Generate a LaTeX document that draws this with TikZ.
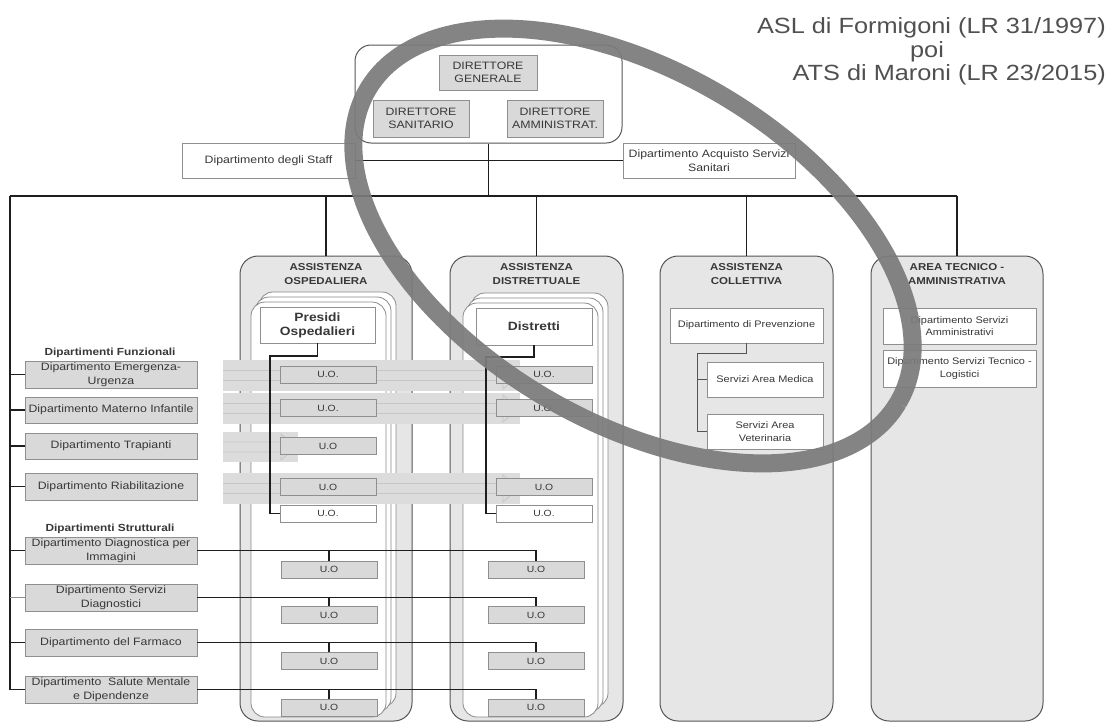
\documentclass[tikz,border=0pt]{standalone}
\usepackage{fontspec}
\setmainfont{Liberation Sans}[FakeStretch=1.15]
\definecolor{boxfill}{HTML}{D9D9D9}
\definecolor{boxline}{HTML}{8F8F8F}
\definecolor{colfill}{HTML}{E6E6E6}
\definecolor{colline}{HTML}{555555}
\definecolor{frameC}{HTML}{8A8A8A}
\definecolor{txt}{HTML}{383838}
\definecolor{lineC}{HTML}{1E1E1E}
\definecolor{ringC}{HTML}{7B7B7B}
\definecolor{bandC}{HTML}{DCDCDC}
\definecolor{bandL}{HTML}{C6C6C6}
\definecolor{titleC}{HTML}{505050}
\tikzset{
 conn/.style={draw=lineC, line width=1.1pt},
 lightconn/.style={draw=boxline, line width=1pt},
 gbox/.style={draw=boxline, fill=boxfill, line width=0.8pt, inner sep=0pt, text=txt, align=center, font=\fontsize{10.7}{13.5}\selectfont},
 wbox/.style={gbox, fill=white},
 sbox/.style={wbox, font=\fontsize{9.5}{12.5}\selectfont},
 uo/.style={gbox, minimum width=96pt, minimum height=17pt, font=\fontsize{9}{10}\selectfont},
 wuo/.style={uo, fill=white},
 dept/.style={gbox, minimum width=172pt, minimum height=27pt},
 colbox/.style={draw=colline, fill=colfill, line width=1pt, rounded corners=18pt, minimum width=172pt, minimum height=465pt, inner sep=0pt},
 coltitle/.style={font=\bfseries\fontsize{10}{14}\selectfont, align=center, text=txt},
 frame/.style={draw=frameC, fill=white, line width=0.8pt, rounded corners=14pt},
 band/.style={fill=bandC},
 bandarrow/.style={draw=bandL, line width=0.8pt},
 ring/.style={draw=ringC, line width=18pt, opacity=0.93},
 sectitle/.style={font=\bfseries\fontsize{10.3}{13}\selectfont, text=txt},
 titletext/.style={font=\fontsize{22}{26}\selectfont, text=titleC, inner sep=0pt},
}
\begin{document}
\begin{tikzpicture}[x=1pt,y=-1pt]
\useasboundingbox (0,0) rectangle (1113,726);

% --- top management ---
\node[draw=colline, line width=1pt, rounded corners=16pt, minimum width=267pt, minimum height=98pt, inner sep=0pt] (top) at (488.5,94) {};
\node[gbox, minimum width=98pt, minimum height=35pt] (dg) at (488,72.5) {DIRETTORE\\GENERALE};
\node[gbox, minimum width=96pt, minimum height=37pt] (ds) at (421,118.5) {DIRETTORE\\SANITARIO};
\node[gbox, minimum width=96pt, minimum height=37pt] (da) at (555,118.5) {DIRETTORE\\AMMINISTRAT.};

\node[wbox, minimum width=173pt, minimum height=35pt] (staff) at (268.5,160.5) {Dipartimento degli Staff};
\node[wbox, minimum width=172pt, minimum height=35pt] (acq) at (709,160.5) {Dipartimento Acquisto Servizi\\Sanitari};
\draw[conn] (staff.east) -- (acq.west);

\coordinate (hl) at (10,196);
\coordinate (hr) at (957,196);
\draw[conn] (top.south) -- (top.south |- hl);
\draw[conn] (hl) -- (hr);

% --- columns ---
\node[colbox] (osp) at (326,488.5) {};
\node[colbox, minimum width=173pt] (dis) at (536.5,488.5) {};
\node[colbox, minimum width=173pt] (col) at (746.5,488.5) {};
\node[colbox] (ate) at (957,488.5) {};
\foreach \c in {osp,dis,col,ate} \draw[conn] (\c.north) -- (\c.north |- hl);

\node[coltitle] (tosp) at (326,274) {ASSISTENZA\\OSPEDALIERA};
\node[coltitle] (tdis) at (536.5,274) {ASSISTENZA\\DISTRETTUALE};
\node[coltitle] (tcol) at (746.5,274) {ASSISTENZA\\COLLETTIVA};
\node[coltitle] (tate) at (957,274) {AREA TECNICO -\\AMMINISTRATIVA};

% stacked frames
\draw[frame] (259,292) rectangle (396,707);
\draw[frame] (255,297) rectangle (391,712);
\draw[frame] (251,302) rectangle (386,717);
\draw[frame] (471,293) rectangle (608,707);
\draw[frame] (467,298) rectangle (603,712);
\draw[frame] (463,303) rectangle (598,717);

\node[wbox, minimum width=115pt, minimum height=36pt, font=\bfseries\fontsize{12}{14}\selectfont] (pres) at (317.5,325) {Presidi\\Ospedalieri};
\node[wbox, minimum width=116pt, minimum height=37pt, font=\bfseries\fontsize{12}{14}\selectfont] (dist) at (534,326.5) {Distretti};

% --- light arrow bands ---
\fill[band] (223,360) rectangle (520,391);
\draw[bandarrow] (223,370.5) -- (503,370.5) -- (503,362) -- (518,375.5) -- (503,389) -- (503,380.5) -- (223,380.5);
\fill[band] (223,393) rectangle (520,424);
\draw[bandarrow] (223,403.5) -- (503,403.5) -- (503,395) -- (518,408.5) -- (503,422) -- (503,413.5) -- (223,413.5);
\fill[band] (223,432) rectangle (298,462);
\draw[bandarrow] (223,442) -- (281,442) -- (281,434) -- (296,447) -- (281,460) -- (281,452) -- (223,452);
\fill[band] (223,473) rectangle (520,504);
\draw[bandarrow] (223,483.5) -- (503,483.5) -- (503,475) -- (518,488.5) -- (503,502) -- (503,493.5) -- (223,493.5);

% --- U.O. boxes ---
\node[uo] (ouo1) at (328,374.5) {U.O.};
\node[uo] (ouo2) at (328,408) {U.O.};
\node[uo] (ouo3) at (328,446) {U.O};
\node[uo] (ouo4) at (328,487) {U.O};
\node[wuo] (ouo5) at (328,513.5) {U.O.};
\node[uo] (ouo6) at (329,569.5) {U.O};
\node[uo] (ouo7) at (329,615) {U.O};
\node[uo] (ouo8) at (329,661) {U.O};
\node[uo] (ouo9) at (329,707.5) {U.O};

\node[uo] (duo1) at (544,374.5) {U.O.};
\node[uo] (duo2) at (544,408) {U.O.};
\node[uo] (duo3) at (544,487) {U.O};
\node[wuo] (duo4) at (544,513.5) {U.O.};
\node[uo] (duo5) at (536,569.5) {U.O};
\node[uo] (duo6) at (536,615) {U.O};
\node[uo] (duo7) at (536,661) {U.O};
\node[uo] (duo8) at (536,707.5) {U.O};

\coordinate (pj) at (270,356);
\coordinate (dj) at (486,357);
\draw[conn] (pres.south) |- (pj) |- (ouo5.west);
\draw[conn] (dist.south) |- (dj) |- (duo4.west);

% --- left departments ---
\node[sectitle] (sfun) at (110,353) {Dipartimenti Funzionali};
\node[dept] (demu) at (111,374.5) {Dipartimento Emergenza-\\Urgenza};
\node[dept, minimum height=26pt] (dmat) at (111,410) {Dipartimento Materno Infantile};
\node[dept, minimum height=26pt] (dtra) at (111,446) {Dipartimento Trapianti};
\node[dept] (dria) at (111,486.5) {Dipartimento Riabilitazione};
\node[sectitle] (sstr) at (110,529) {Dipartimenti Strutturali};
\node[dept] (ddia) at (111,550.5) {Dipartimento Diagnostica per\\Immagini};
\node[dept] (dser) at (111,597.5) {Dipartimento Servizi\\Diagnostici};
\node[dept] (dfar) at (111,642.5) {Dipartimento del Farmaco};
\node[dept] (dsal) at (111,689.5) {Dipartimento\ \ Salute Mentale\\e Dipendenze};

\draw[conn] (hl) -- (hl |- dsal.west) -- (dsal.west);
\foreach \d in {demu,dmat,dtra,dria,ddia,dfar} \draw[conn] (hl |- \d.west) -- (\d.west);
\draw[lightconn] (hl |- dser.west) -- (dser.west);

\draw[conn] (ddia.east) -| (duo5.north);
\draw[conn] (dser.east) -| (duo6.north);
\draw[conn] (dfar.east) -| (duo7.north);
\draw[conn] (dsal.east) -| (duo8.north);
\draw[conn] (ouo6.north) -- (ouo6.north |- ddia.east);
\draw[conn] (ouo7.north) -- (ouo7.north |- dser.east);
\draw[conn] (ouo8.north) -- (ouo8.north |- dfar.east);
\draw[conn] (ouo9.north) -- (ouo9.north |- dsal.east);

% --- collettiva ---
\node[sbox, minimum width=153pt, minimum height=35pt] (prev) at (746.5,325.5) {Dipartimento di Prevenzione};
\node[sbox, minimum width=116pt, minimum height=35pt] (smed) at (765,379.5) {Servizi Area Medica};
\node[sbox, minimum width=116pt, minimum height=35pt] (svet) at (765,431.5) {Servizi Area\\Veterinaria};
\coordinate (cj) at (697,353);
\draw[lightconn, draw=colline] (prev.south) |- (cj) |- (svet.west);
\draw[lightconn, draw=colline] (cj |- smed.west) -- (smed.west);

% --- area tecnico ---
\node[sbox, minimum width=153pt, minimum height=36pt] (sam) at (959.5,326) {Dipartimento Servizi\\Amministrativi};
\node[sbox, minimum width=153pt, minimum height=37pt] (stl) at (959.5,368.5) {Dipartimento Servizi Tecnico -\\Logistici};

% --- ring (tilted ellipse, image coordinates) ---
\draw[ring] plot[domain=0:360, samples=120, smooth cycle, variable=\t]
  ({633+308*cos(\t)*cos(30.6)-175*sin(\t)*sin(30.6)}, {246+308*cos(\t)*sin(30.6)+175*sin(\t)*cos(30.6)});

% --- title ---
\node[titletext, anchor=base east] (t1) at (1106,33) {ASL di Formigoni (LR 31/1997)};
\node[titletext, anchor=base] (t2) at (927,57) {poi};
\node[titletext, anchor=base east] (t3) at (1106,80) {ATS di Maroni (LR 23/2015)};
\end{tikzpicture}
\end{document}
